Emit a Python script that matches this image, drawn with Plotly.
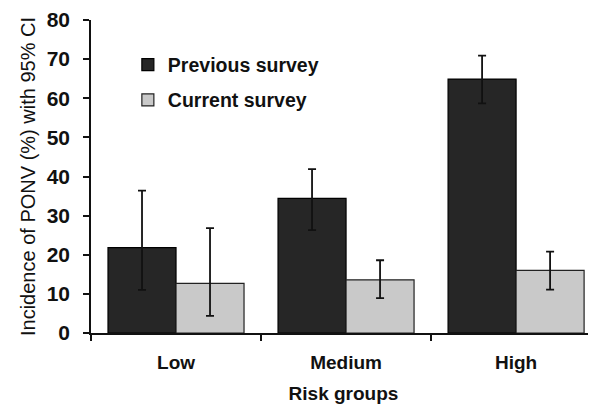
import plotly.graph_objects as go

categories = ["Low", "Medium", "High"]
previous = [21.8, 34.4, 64.9]
previous_hi = [36.4, 41.9, 70.9]
previous_lo = [11.0, 26.3, 58.7]
current = [12.7, 13.6, 16.0]
current_hi = [26.8, 18.6, 20.8]
current_lo = [4.4, 8.9, 11.1]

FONT = "Liberation Sans, Arial, sans-serif"

def err(vals, hi, lo):
    return dict(type="data", symmetric=False,
                array=[h - v for h, v in zip(hi, vals)],
                arrayminus=[v - l for v, l in zip(vals, lo)],
                color="#111111", thickness=1.8, width=4)

fig = go.Figure()
fig.add_trace(go.Bar(x=categories, y=previous, name="Previous survey",
                     legendgroup="a",
                     marker=dict(color="#262626", line=dict(color="#000000", width=1.2)),
                     error_y=err(previous, previous_hi, previous_lo)))
fig.add_trace(go.Bar(x=categories, y=current, name="Current survey",
                     legendgroup="b",
                     marker=dict(color="#c9c9c9", line=dict(color="#222222", width=1.2)),
                     error_y=err(current, current_hi, current_lo)))

fig.update_layout(
    width=588, height=396,
    margin=dict(l=83, r=0, t=12, b=71),
    paper_bgcolor="white", plot_bgcolor="white",
    barmode="group", bargap=0.2, bargroupgap=0,
    font=dict(family=FONT, color="#111111"),
    showlegend=True,
    legend=dict(x=0.073, y=0.919, xanchor="left", yanchor="top",
                font=dict(family=FONT, size=19.5, color="#111111", weight="bold"),
                tracegroupgap=7, bgcolor="rgba(0,0,0,0)", itemwidth=30),
    xaxis=dict(type="category", range=[-0.5, 2.47], tickson="boundaries",
               automargin=False,
               showline=True, linecolor="#111111", linewidth=1.5,
               ticks="outside", ticklen=6, tickcolor="#111111", tickwidth=1.5,
               ticklabelstandoff=11,
               tickfont=dict(family=FONT, size=19, color="#111111", weight="bold"),
               title=dict(text="Risk groups", standoff=18,
                          font=dict(family=FONT, size=19, color="#111111", weight="bold")),
               showgrid=False, zeroline=False),
    yaxis=dict(range=[0, 80], dtick=10, tick0=0, automargin=False,
               showline=True, linecolor="#111111", linewidth=1.5,
               ticks="outside", ticklen=6, tickcolor="#111111", tickwidth=1.5,
               ticklabelstandoff=9, ticklabeloverflow="allow",
               tickfont=dict(family=FONT, size=21, color="#111111", weight="bold"),
               title=dict(text="Incidence of PONV (%) with 95% CI", standoff=6,
                          font=dict(family=FONT, size=20, color="#111111")),
               showgrid=False, zeroline=False),
)

fig.write_html("out.html")
